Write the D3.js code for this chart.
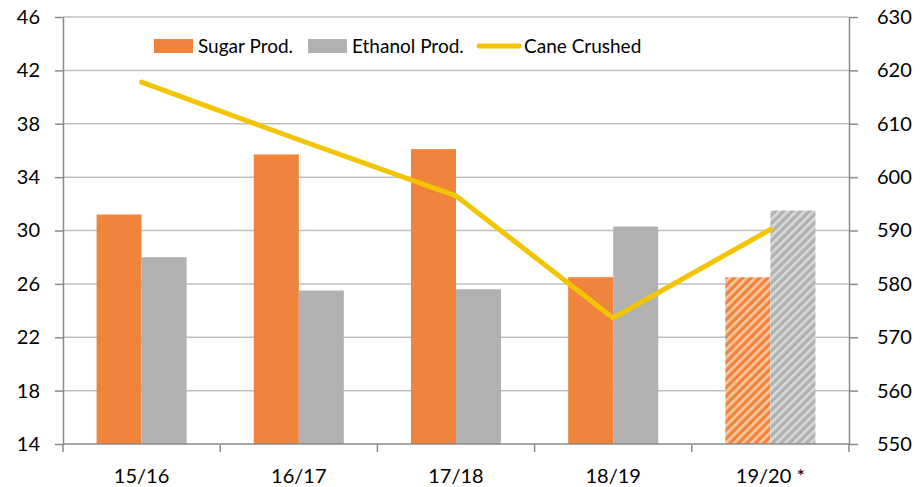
<!DOCTYPE html>
<html>
<head>
<meta charset="utf-8">
<script src="https://cdn.jsdelivr.net/npm/d3@7"></script>
<style>
  body { margin: 0; background: #fff; }
  svg text { font-family: Lato, "Liberation Sans", sans-serif; fill: #000; }
</style>
</head>
<body>
<div id="chart"></div>
<script>
// Season labels (last one is a projection, drawn hatched)
const seasons = ["15/16", "16/17", "17/18", "18/19", "19/20 *"];
const sugarProd = [31.2, 35.7, 36.1, 26.5, 26.5];
const ethanolProd = [28.0, 25.5, 25.6, 30.3, 31.5];
const caneCrushed = [617.8, 607.0, 596.5, 573.6, 590.2];
const leftTicks = [14, 18, 22, 26, 30, 34, 38, 42, 46];
const rightTicks = [550, 560, 570, 580, 590, 600, 610, 620, 630];
const projected = ["19/20 *"];

const width = 923, height = 487;
const plotLeft = 63, plotRight = 849, plotTop = 17, plotBottom = 444;

const orange = "#f0843c", grey = "#b1b1b1", yellow = "#f2c500";

const svg = d3.select("#chart").append("svg")
  .attr("width", width)
  .attr("height", height);

// hatch patterns for the projected season
const defs = svg.append("defs");
function hatch(id, base, light) {
  const p = defs.append("pattern")
    .attr("id", id)
    .attr("patternUnits", "userSpaceOnUse")
    .attr("width", 6)
    .attr("height", 6)
    .attr("patternTransform", "rotate(45)");
  p.append("rect").attr("width", 6).attr("height", 6).attr("fill", base);
  p.append("rect").attr("width", 2.6).attr("height", 6).attr("fill", light);
}
hatch("hatchSugar", orange, "#f9c9a3");
hatch("hatchEthanol", grey, "#d9d9d9");

const x0 = d3.scaleBand().domain(seasons).range([plotLeft, plotRight]);
const x1 = d3.scaleBand().domain(["sugar", "ethanol"])
  .range([0, x0.bandwidth()])
  .paddingOuter(0.746);

const yL = d3.scaleLinear().domain([14, 46]).range([plotBottom, plotTop]);
const yR = d3.scaleLinear().domain([550, 630]).range([plotBottom, plotTop]);

// gridlines
svg.append("g")
  .selectAll("line")
  .data(leftTicks.slice(1))
  .enter().append("line")
  .attr("x1", plotLeft).attr("x2", plotRight)
  .attr("y1", d => yL(d)).attr("y2", d => yL(d))
  .attr("stroke", "#bfbfbf")
  .attr("stroke-width", 1.5);

// bars
const rows = seasons.map((s, i) => ({ season: s, sugar: sugarProd[i], ethanol: ethanolProd[i] }));
const groups = svg.append("g")
  .selectAll("g")
  .data(rows)
  .enter().append("g")
  .attr("transform", d => `translate(${x0(d.season)},0)`);

groups.append("rect")
  .attr("x", x1("sugar"))
  .attr("width", x1.bandwidth())
  .attr("y", d => yL(d.sugar))
  .attr("height", d => yL(14) - yL(d.sugar))
  .attr("fill", d => projected.includes(d.season) ? "url(#hatchSugar)" : orange);

groups.append("rect")
  .attr("x", x1("ethanol"))
  .attr("width", x1.bandwidth())
  .attr("y", d => yL(d.ethanol))
  .attr("height", d => yL(14) - yL(d.ethanol))
  .attr("fill", d => projected.includes(d.season) ? "url(#hatchEthanol)" : grey);

// cane crushed line
const line = d3.line()
  .x((d, i) => x0(seasons[i]) + x0.bandwidth() / 2)
  .y(d => yR(d));

svg.append("path")
  .datum(caneCrushed)
  .attr("d", line)
  .attr("fill", "none")
  .attr("stroke", yellow)
  .attr("stroke-width", 5)
  .attr("stroke-linecap", "round")
  .attr("stroke-linejoin", "round");

// axes
const axisColor = "#8a8a8a";
function styleAxis(g) {
  g.selectAll(".domain").attr("stroke", axisColor).attr("stroke-width", 1.5);
  g.selectAll(".tick line").attr("stroke", axisColor).attr("stroke-width", 1.5);
  g.selectAll(".tick text").style("font-size", "20px").attr("fill", "#000");
}

svg.append("g")
  .attr("transform", `translate(${plotLeft},0)`)
  .call(d3.axisLeft(yL).tickValues(leftTicks).tickSize(8).tickPadding(15).tickSizeOuter(0))
  .call(styleAxis);

svg.append("g")
  .attr("transform", `translate(${plotRight},0)`)
  .call(d3.axisRight(yR).tickValues(rightTicks).tickSize(9).tickPadding(19).tickSizeOuter(0))
  .call(styleAxis);

// category axis: ticks sit on band edges
const xAxis = svg.append("g")
  .attr("transform", `translate(0,${plotBottom})`);
xAxis.append("line")
  .attr("x1", plotLeft).attr("x2", plotRight)
  .attr("stroke", axisColor).attr("stroke-width", 1.5);
xAxis.selectAll(".edge")
  .data(seasons.concat(["end"]))
  .enter().append("line")
  .attr("class", "edge")
  .attr("x1", (d, i) => plotLeft + i * x0.step())
  .attr("x2", (d, i) => plotLeft + i * x0.step())
  .attr("y1", 0).attr("y2", 8)
  .attr("stroke", axisColor).attr("stroke-width", 1.5);
xAxis.selectAll(".lbl")
  .data(seasons)
  .enter().append("text")
  .attr("class", "lbl")
  .attr("x", d => x0(d) + x0.bandwidth() / 2)
  .attr("y", 39)
  .attr("text-anchor", "middle")
  .style("font-size", "20px")
  .text(d => d);

// legend
const legendItems = [
  { label: "Sugar Prod.", x: 154, kind: "rect", color: orange },
  { label: "Ethanol Prod.", x: 308, kind: "rect", color: grey },
  { label: "Cane Crushed", x: 477, kind: "line", color: yellow }
];
const legend = svg.append("g").attr("transform", "translate(0,46)");
legendItems.forEach(it => {
  if (it.kind === "rect") {
    legend.append("rect")
      .attr("x", it.x).attr("y", -7)
      .attr("width", 39).attr("height", 14)
      .attr("fill", it.color);
  } else {
    legend.append("line")
      .attr("x1", it.x + 2).attr("x2", it.x + 42)
      .attr("stroke", it.color)
      .attr("stroke-width", 5)
      .attr("stroke-linecap", "round");
  }
  legend.append("text")
    .attr("x", it.x + (it.kind === "rect" ? 44 : 47))
    .attr("y", 7)
    .style("font-size", "19px")
    .text(it.label);
});
</script>
</body>
</html>
